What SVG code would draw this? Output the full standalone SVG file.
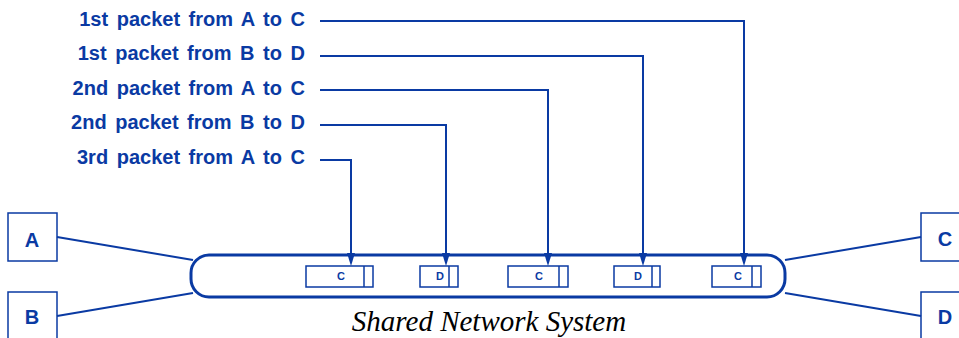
<svg xmlns="http://www.w3.org/2000/svg" width="959" height="338" viewBox="0 0 959 338">
<style>
.lbl{font-family:"Liberation Sans",Arial,sans-serif;font-weight:bold;font-size:20px;fill:#0a3aa3;text-anchor:end;word-spacing:3px}
.node{fill:#fff;stroke:#0a3aa3;stroke-width:1.5}
.nt{font-family:"Liberation Sans",Arial,sans-serif;font-weight:bold;font-size:20px;fill:#0a3aa3;text-anchor:middle}
.pk{fill:#fff;stroke:#0a3aa3;stroke-width:1.5}
.pt{font-family:"Liberation Sans",Arial,sans-serif;font-weight:bold;font-size:11px;fill:#0a3aa3;text-anchor:middle}
.ln{fill:none;stroke:#0a3aa3;stroke-width:2}
.ah{fill:#0a3aa3}
.cap{font-family:"Liberation Serif","Times New Roman",serif;font-style:italic;font-size:29px;fill:#000;text-anchor:middle}
</style>
<g id="network">
<rect x="191" y="255" width="594" height="42" rx="18" ry="18" fill="#fff" stroke="#0a3aa3" stroke-width="3"/>
<text class="cap" x="489" y="331">Shared Network System</text>
</g>
<g id="labels">
<text class="lbl" x="305" y="26">1st packet from A to C</text>
<text class="lbl" x="305" y="60">1st packet from B to D</text>
<text class="lbl" x="305" y="95">2nd packet from A to C</text>
<text class="lbl" x="305" y="129">2nd packet from B to D</text>
<text class="lbl" x="305" y="164">3rd packet from A to C</text>
</g>
<g id="packet1">
<rect class="pk" x="306" y="266" width="67" height="21"/>
<line class="pk" x1="364" y1="266" x2="364" y2="287"/>
<text class="pt" x="341" y="280">C</text>
</g>
<g id="packet2">
<rect class="pk" x="420" y="266" width="38" height="21"/>
<line class="pk" x1="449" y1="266" x2="449" y2="287"/>
<text class="pt" x="440" y="280">D</text>
</g>
<g id="packet3">
<rect class="pk" x="508" y="266" width="60" height="21"/>
<line class="pk" x1="559" y1="266" x2="559" y2="287"/>
<text class="pt" x="539" y="280">C</text>
</g>
<g id="packet4">
<rect class="pk" x="614" y="266" width="46" height="21"/>
<line class="pk" x1="652" y1="266" x2="652" y2="287"/>
<text class="pt" x="638" y="280">D</text>
</g>
<g id="packet5">
<rect class="pk" x="712" y="266" width="49" height="21"/>
<line class="pk" x1="752" y1="266" x2="752" y2="287"/>
<text class="pt" x="738" y="280">C</text>
</g>
<g id="nodeA">
<rect class="node" x="8" y="213" width="49" height="48"/>
<text class="nt" x="32" y="247">A</text>
</g>
<g id="nodeB">
<rect class="node" x="8" y="292" width="49" height="50"/>
<text class="nt" x="32" y="324">B</text>
</g>
<g id="nodeC">
<rect class="node" x="921" y="213" width="49" height="48"/>
<text class="nt" x="945" y="246">C</text>
</g>
<g id="nodeD">
<rect class="node" x="921" y="292" width="49" height="50"/>
<text class="nt" x="945" y="324">D</text>
</g>
<g id="connectors">
<path class="ln" d="M320,21 H744 V254"/>
<path class="ln" d="M320,56 H643 V254"/>
<path class="ln" d="M320,90 H548 V254"/>
<path class="ln" d="M320,125 H446 V254"/>
<path class="ln" d="M320,160 H351 V254"/>
<path class="ah" d="M347,253 L355,253 L351,266 Z"/>
<path class="ah" d="M442,253 L450,253 L446,266 Z"/>
<path class="ah" d="M544,253 L552,253 L548,266 Z"/>
<path class="ah" d="M639,253 L647,253 L643,266 Z"/>
<path class="ah" d="M740,253 L748,253 L744,266 Z"/>
<line class="ln" x1="57" y1="237" x2="193" y2="260"/>
<line class="ln" x1="57" y1="316" x2="193" y2="293"/>
<line class="ln" x1="785" y1="260" x2="921" y2="237"/>
<line class="ln" x1="785" y1="293" x2="921" y2="316"/>
</g>
</svg>
